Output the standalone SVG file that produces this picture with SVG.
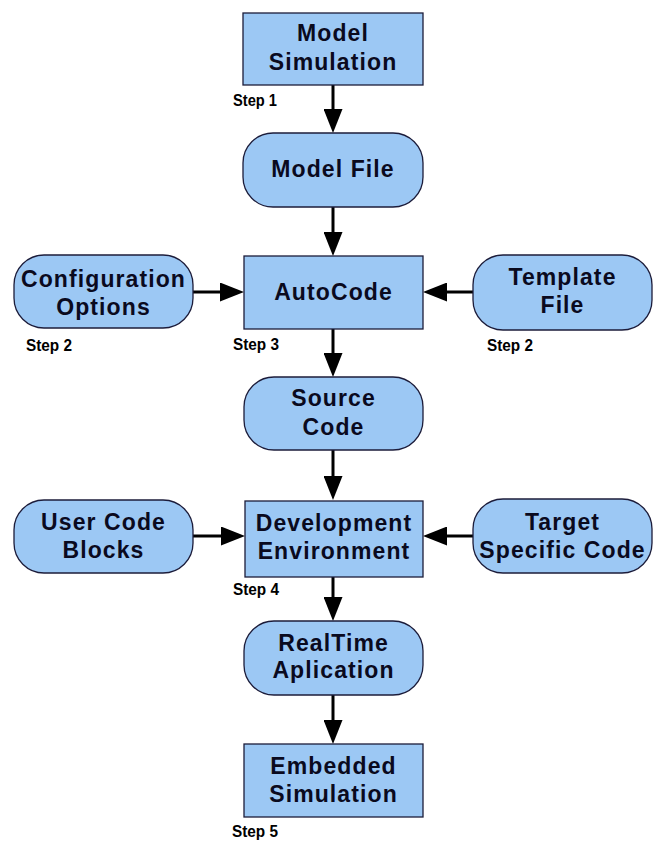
<svg xmlns="http://www.w3.org/2000/svg" width="658" height="841" viewBox="0 0 658 841">
<defs>
<style>
.box{fill:#9cc8f4;stroke:#1c1c3a;stroke-width:1.3}
.t{font-family:"Liberation Sans",Arial,sans-serif;font-weight:bold;font-size:23px;letter-spacing:1.1px;fill:#0a0a1e;text-anchor:middle}
.s{font-family:"Liberation Sans",Arial,sans-serif;font-weight:bold;font-size:16px;fill:#000}
.c{stroke:#000;stroke-width:3;fill:none;marker-end:url(#ah)}
</style>
<marker id="ah" markerUnits="userSpaceOnUse" viewBox="0 0 24 19" refX="16" refY="9.5" markerWidth="24" markerHeight="19" orient="auto">
<path d="M0,0 L24,9.5 L0,19 Z" fill="#000"/>
</marker>
</defs>
<rect width="658" height="841" fill="#fff"/>
<g id="connectors">
<line class="c" x1="333" y1="85" x2="333" y2="125"/>
<line class="c" x1="333" y1="207" x2="333" y2="248"/>
<line class="c" x1="333" y1="329" x2="333" y2="369"/>
<line class="c" x1="333" y1="450" x2="333" y2="492"/>
<line class="c" x1="333" y1="577" x2="333" y2="613"/>
<line class="c" x1="333" y1="695" x2="333" y2="736"/>
<line class="c" x1="193" y1="292" x2="236" y2="292"/>
<line class="c" x1="473" y1="292" x2="431" y2="292"/>
<line class="c" x1="193" y1="536" x2="237" y2="536"/>
<line class="c" x1="473" y1="536" x2="431" y2="536"/>
</g>
<g id="model-simulation">
<rect class="box" x="243" y="13" width="180" height="72"/>
<text class="t" x="333" y="41">Model</text>
<text class="t" x="333" y="70">Simulation</text>
<text class="s" x="233" y="106" textLength="44" lengthAdjust="spacingAndGlyphs">Step 1</text>
</g>
<g id="model-file">
<rect class="box" x="243" y="133" width="180" height="74" rx="30"/>
<text class="t" x="333" y="177">Model File</text>
</g>
<g id="configuration-options">
<rect class="box" x="14" y="255" width="179" height="73" rx="30"/>
<text class="t" x="103.5" y="287">Configuration</text>
<text class="t" x="103.5" y="315">Options</text>
<text class="s" x="26" y="351" textLength="46" lengthAdjust="spacingAndGlyphs">Step 2</text>
</g>
<g id="autocode">
<rect class="box" x="244" y="256" width="179" height="73"/>
<text class="t" x="333.5" y="300">AutoCode</text>
<text class="s" x="233" y="350" textLength="46" lengthAdjust="spacingAndGlyphs">Step 3</text>
</g>
<g id="template-file">
<rect class="box" x="473" y="255" width="179" height="75" rx="30"/>
<text class="t" x="562.5" y="285">Template</text>
<text class="t" x="562.5" y="313">File</text>
<text class="s" x="487" y="351" textLength="46" lengthAdjust="spacingAndGlyphs">Step 2</text>
</g>
<g id="source-code">
<rect class="box" x="244" y="377" width="179" height="73" rx="30"/>
<text class="t" x="333.5" y="406">Source</text>
<text class="t" x="333.5" y="435">Code</text>
</g>
<g id="user-code-blocks">
<rect class="box" x="14" y="500" width="179" height="73" rx="30"/>
<text class="t" x="103.5" y="530">User Code</text>
<text class="t" x="103.5" y="558">Blocks</text>
</g>
<g id="development-environment">
<rect class="box" x="245" y="501" width="178" height="76"/>
<text class="t" x="334" y="531">Development</text>
<text class="t" x="334" y="559">Environment</text>
<text class="s" x="233" y="595" textLength="46" lengthAdjust="spacingAndGlyphs">Step 4</text>
</g>
<g id="target-specific-code">
<rect class="box" x="473" y="499" width="179" height="74" rx="30"/>
<text class="t" x="562.5" y="530">Target</text>
<text class="t" x="562.5" y="558">Specific Code</text>
</g>
<g id="realtime-aplication">
<rect class="box" x="244" y="621" width="179" height="74" rx="30"/>
<text class="t" x="333.5" y="651">RealTime</text>
<text class="t" x="333.5" y="678">Aplication</text>
</g>
<g id="embedded-simulation">
<rect class="box" x="244" y="744" width="179" height="73"/>
<text class="t" x="333.5" y="774">Embedded</text>
<text class="t" x="333.5" y="802">Simulation</text>
<text class="s" x="232" y="837" textLength="46" lengthAdjust="spacingAndGlyphs">Step 5</text>
</g>
</svg>
